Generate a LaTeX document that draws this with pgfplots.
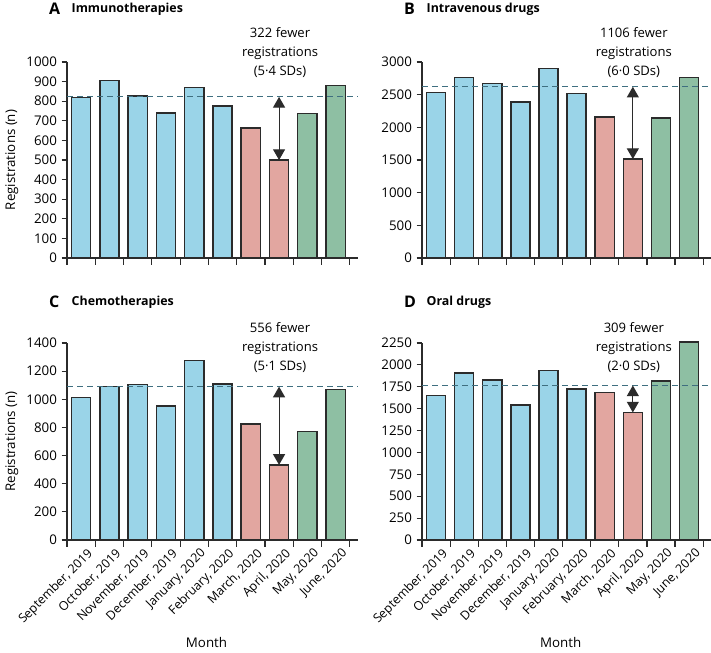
\documentclass[border=0pt]{standalone}
\usepackage{fontspec}
\setmainfont{Open Sans}
\usepackage{pgfplots}
\pgfplotsset{compat=1.18}
\usetikzlibrary{arrows.meta}
\definecolor{barblue}{HTML}{9AD4E8}
\definecolor{barpink}{HTML}{E2A6A0}
\definecolor{bargreen}{HTML}{8EBFA3}
\definecolor{meanline}{HTML}{3F6F80}
\definecolor{edge}{HTML}{2B2B2B}

\pgfplotsset{
  panel/.style={
    scale only axis, width=218pt, height=147pt,
    xmin=-0.5, xmax=9.78, ymin=0,
    clip=false,
    axis lines*=left,
    axis line style={line width=0.9pt, edge},
    tick align=outside,
    xtick={0,...,9},
    xticklabels={},
    major x tick style={draw=none},
    minor xtick={-0.5,0.5,...,9.5},
    minor tick length=5pt,
    major tick length=4pt,
    every tick/.style={line width=0.9pt, edge},
    ticklabel style={font=\fontsize{10}{12}\selectfont},
    /pgf/number format/1000 sep={},
    /pgf/number format/assume math mode=true,
    ylabel style={font=\fontsize{10}{12}\selectfont},
    xlabel style={font=\fontsize{10}{12}\selectfont},
  },
  regs/.style={
    ylabel={Registrations (n)},
    ylabel style={at={(axis description cs:-0.19,0.5)}, anchor=center},
  },
  months/.style={
    xticklabels={{September, 2019},{October, 2019},{November, 2019},{December, 2019},{January, 2020},{February, 2020},{March, 2020},{April, 2020},{May, 2020},{June, 2020}},
    xticklabel style={xshift=4pt, rotate=45, anchor=north east, inner sep=1pt, font=\fontsize{9.3}{11}\selectfont},
    xlabel={Month},
    xlabel style={at={(axis description cs:0.48,-0.52)}, anchor=center},
  },
  colbar/.style={ybar, bar width=0.68, bar shift=0pt, draw=edge, line width=1.1pt, fill=#1},
  mean/.style={meanline, line width=0.9pt, dash pattern=on 4.5pt off 3pt},
  gap/.style={edge, line width=0.8pt, {Triangle[width=9pt,length=8pt]}-{Triangle[width=9pt,length=8pt]}},
}
\tikzset{
  note/.style={align=center, font=\fontsize{9.8}{14.25}\selectfont},
  ttl/.style={anchor=west, font=\bfseries\fontsize{9.3}{11}\selectfont},
  lttr/.style={anchor=west, font=\bfseries\fontsize{12}{14}\selectfont},
}

\begin{document}
\begin{tikzpicture}
\useasboundingbox (0pt,0pt) rectangle (533.25pt,-489.75pt);
% A
\begin{axis}[panel, regs, at={(50.25pt,-193.5pt)}, anchor=south west,
  ymax=1000, ytick={0,100,...,1000}]
\addplot[colbar=barblue] coordinates {(0,818) (1,905) (2,826) (3,741) (4,869) (5,776)};
\addplot[colbar=barpink] coordinates {(6,663) (7,500)};
\addplot[colbar=bargreen] coordinates {(8,736) (9,879)};
\addplot[mean] coordinates {(-0.5,822) (9.78,822)};
\addplot[gap] coordinates {(7,822) (7,500)};
\node[note] at (rel axis cs:0.733,1.046) {322 fewer\\registrations\\(5·4 SDs)};
\node[lttr] at (rel axis cs:-0.078,1.27) {A};
\node[ttl] at (rel axis cs:0,1.27) {Immunotherapies};
\end{axis}
% B
\begin{axis}[panel, at={(316.5pt,-193.5pt)}, anchor=south west, width=216.75pt,
  ymax=3000, ytick={0,500,...,3000}]
\addplot[colbar=barblue] coordinates {(0,2531) (1,2765) (2,2668) (3,2388) (4,2898) (5,2515)};
\addplot[colbar=barpink] coordinates {(6,2158) (7,1515)};
\addplot[colbar=bargreen] coordinates {(8,2143) (9,2765)};
\addplot[mean] coordinates {(-0.5,2621) (9.78,2621)};
\addplot[gap] coordinates {(7,2621) (7,1515)};
\node[note] at (rel axis cs:0.733,1.046) {1106 fewer\\registrations\\(6·0 SDs)};
\node[lttr] at (rel axis cs:-0.078,1.27) {B};
\node[ttl] at (rel axis cs:0,1.27) {Intravenous drugs};
\end{axis}
% C
\begin{axis}[panel, regs, months, at={(50.25pt,-405pt)}, anchor=south west, height=147.75pt,
  ymax=1400, ytick={0,200,...,1400}]
\addplot[colbar=barblue] coordinates {(0,1011) (1,1091) (2,1106) (3,951) (4,1274) (5,1108)};
\addplot[colbar=barpink] coordinates {(6,826) (7,534)};
\addplot[colbar=bargreen] coordinates {(8,771) (9,1068)};
\addplot[mean] coordinates {(-0.5,1090) (9.78,1090)};
\addplot[gap] coordinates {(7,1090) (7,534)};
\node[note] at (rel axis cs:0.733,0.975) {556 fewer\\registrations\\(5·1 SDs)};
\node[lttr] at (rel axis cs:-0.078,1.208) {C};
\node[ttl] at (rel axis cs:0,1.208) {Chemotherapies};
\end{axis}
% D
\begin{axis}[panel, months, at={(316.5pt,-405pt)}, anchor=south west, width=216.75pt, height=147.75pt,
  ymax=2250, ytick={0,250,...,2250}]
\addplot[colbar=barblue] coordinates {(0,1651) (1,1906) (2,1830) (3,1541) (4,1933) (5,1724)};
\addplot[colbar=barpink] coordinates {(6,1686) (7,1457)};
\addplot[colbar=bargreen] coordinates {(8,1815) (9,2264)};
\addplot[mean] coordinates {(-0.5,1765) (9.78,1765)};
\addplot[gap] coordinates {(7,1765) (7,1457)};
\node[note] at (rel axis cs:0.733,0.975) {309 fewer\\registrations\\(2·0 SDs)};
\node[lttr] at (rel axis cs:-0.078,1.208) {D};
\node[ttl] at (rel axis cs:0,1.208) {Oral drugs};
\end{axis}
\end{tikzpicture}
\end{document}
